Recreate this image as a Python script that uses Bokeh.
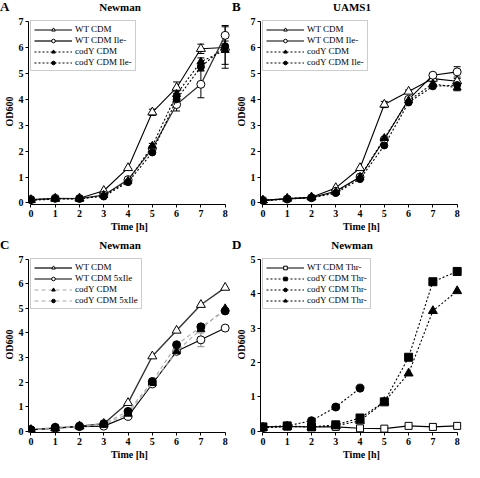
from bokeh.plotting import figure
from bokeh.layouts import row, column
from bokeh.models import (Range1d, Legend, LegendItem, Whisker, ColumnDataSource,
                          TeeHead, FixedTicker, Div)
from bokeh.embed import file_html
from bokeh.resources import INLINE

time = [0, 1, 2, 3, 4, 5, 6, 7, 8]
time_short = [0, 1, 2, 3, 4]

# Panel A - Newman
a_wt_cdm = [0.12, 0.17, 0.18, 0.47, 1.35, 3.5, 4.45, 5.95, 6.0]
a_wt_ile = [0.13, 0.18, 0.17, 0.30, 0.90, 2.1, 3.80, 4.58, 6.47]
a_cody_cdm = [0.10, 0.15, 0.15, 0.30, 0.85, 2.2, 4.20, 5.45, 5.90]
a_cody_ile = [0.12, 0.17, 0.17, 0.25, 0.80, 1.95, 4.00, 5.25, 6.05]
a_wt_cdm_err = [0, 0, 0, 0, 0, 0.12, 0.22, 0.18, 0.80]
a_wt_ile_err = [0, 0, 0, 0, 0, 0, 0.25, 0.52, 0.38]
a_cody_cdm_err = [0, 0, 0, 0, 0, 0.10, 0.12, 0.15, 0.55]
a_cody_ile_err = [0, 0, 0, 0, 0, 0, 0.10, 0.15, 0.20]

# Panel B - UAMS1
b_wt_cdm = [0.10, 0.17, 0.22, 0.58, 1.35, 3.8, 4.30, 4.80, 4.70]
b_wt_ile = [0.10, 0.15, 0.20, 0.45, 1.00, 2.45, 4.00, 4.93, 5.06]
b_cody_cdm = [0.10, 0.17, 0.22, 0.42, 1.00, 2.50, 3.95, 4.60, 4.45]
b_cody_ile = [0.08, 0.15, 0.20, 0.38, 0.92, 2.22, 3.88, 4.50, 4.55]
b_wt_cdm_err = [0, 0, 0, 0, 0, 0.12, 0.06, 0.05, 0.10]
b_wt_ile_err = [0, 0, 0, 0, 0, 0, 0, 0, 0.20]
b_cody_cdm_err = [0, 0, 0, 0, 0, 0, 0, 0.08, 0.12]
b_cody_ile_err = [0, 0, 0, 0, 0, 0, 0, 0, 0]

# Panel C - Newman, 5xIle
c_wt_cdm = [0.05, 0.12, 0.20, 0.30, 1.15, 3.05, 4.10, 5.15, 5.85]
c_wt_5ile = [0.05, 0.12, 0.18, 0.20, 0.60, 1.92, 3.25, 3.72, 4.20]
c_cody_cdm = [0.05, 0.10, 0.18, 0.25, 0.70, 1.95, 3.25, 4.15, 5.00]
c_cody_5ile = [0.05, 0.15, 0.20, 0.30, 0.80, 2.02, 3.52, 4.25, 4.90]
c_wt_5ile_err = [0, 0, 0, 0, 0, 0, 0, 0.28, 0]

# Panel D - Newman, Thr-
d_wt_thr = [0.12, 0.13, 0.12, 0.12, 0.08, 0.07, 0.15, 0.12, 0.15]
d_cody_sq = [0.12, 0.15, 0.12, 0.18, 0.38, 0.85, 2.15, 4.35, 4.65]
d_cody_circ = [0.10, 0.15, 0.30, 0.70, 1.25]
d_cody_tri = [0.10, 0.13, 0.12, 0.15, 0.30, 0.85, 1.68, 3.50, 4.08]

SERIF = "Liberation Serif"


def header(letter, title, height, top):
    html = (
        f'<div style="position:relative;width:232px;height:{height}px;'
        f"font-family:'Liberation Serif',serif;font-weight:bold;color:black;\">"
        f'<span style="position:absolute;left:0px;top:{top}px;font-size:13px;'
        f'line-height:13px;">{letter}</span>'
        f'<span style="position:absolute;left:20px;width:200px;top:{top + 1}px;'
        f'text-align:center;font-size:11px;line-height:12px;">{title}</span></div>'
    )
    return Div(text=html, width=232, height=height, margin=0)


def make_panel(ymax, series, width, height):
    ytop = ymax + 0.12 * ymax / 7
    p = figure(width=width, height=height, x_range=Range1d(-0.1, 8.22),
               y_range=Range1d(-0.06 * ymax / 7, ytop), title=None,
               output_backend="svg", toolbar_location=None,
               min_border_left=2, min_border_right=2, min_border_top=6,
               min_border_bottom=2)
    p.outline_line_color = None
    p.xgrid.visible = False
    p.ygrid.visible = False
    p.background_fill_color = "white"
    p.border_fill_color = "white"

    p.xaxis.ticker = FixedTicker(ticks=list(range(0, 9)))
    p.yaxis.ticker = FixedTicker(ticks=list(range(0, ymax + 1)))
    p.xaxis.bounds = (0, 8)
    p.yaxis.bounds = (0, ymax)
    p.xaxis.axis_label = "Time [h]"
    p.yaxis.axis_label = "OD600"
    for ax in (p.xaxis, p.yaxis):
        ax.axis_label_text_font = SERIF
        ax.axis_label_text_font_style = "bold"
        ax.axis_label_text_font_size = "10px"
        ax.axis_label_text_color = "black"
        ax.major_label_text_font = SERIF
        ax.major_label_text_font_style = "bold"
        ax.major_label_text_font_size = "10px"
        ax.major_label_text_color = "black"
        ax.major_label_standoff = 2
        ax.axis_label_standoff = 1
        ax.major_tick_in = 0
        ax.major_tick_out = 3
        ax.minor_tick_line_color = None
        ax.axis_line_color = "black"
        ax.major_tick_line_color = "black"

    items = []
    for s in series:
        xs = s["x"]
        ln = p.line(xs, s["y"], line_color=s["color"], line_width=s.get("lw", 1.1),
                    line_dash=s.get("dash", "solid"))
        err = s.get("err")
        if err:
            ex = [x for x, e in zip(xs, err) if e > 0]
            ey = [y for y, e in zip(s["y"], err) if e > 0]
            ee = [e for e in err if e > 0]
            ec = s.get("err_color", "black")
            src = ColumnDataSource(dict(x=ex, upper=[y + e for y, e in zip(ey, ee)],
                                        lower=[y - e for y, e in zip(ey, ee)]))
            w = Whisker(base="x", upper="upper", lower="lower", source=src,
                        line_color=ec, line_width=1,
                        upper_head=TeeHead(size=7, line_color=ec),
                        lower_head=TeeHead(size=7, line_color=ec))
            p.add_layout(w)
        mk = p.scatter(xs, s["y"], marker=s["marker"], size=s.get("size", 8),
                       fill_color=s["fill"], line_color="black", line_width=1)
        items.append(LegendItem(label=s["label"], renderers=[ln, mk]))

    legend = Legend(items=items, location="top_left", margin=2, padding=3,
                    spacing=1, glyph_width=38, glyph_height=9, label_height=9,
                    label_standoff=3, label_text_font=SERIF,
                    label_text_font_size="9px", label_text_color="black",
                    border_line_color="#999999",
                    border_line_width=1, background_fill_color="white",
                    background_fill_alpha=1.0)
    p.add_layout(legend)
    return p


dot = "2 2"
pa = make_panel(7, [
    dict(label="WT CDM", x=time, y=a_wt_cdm, marker="triangle", fill="white",
         color="black", err=a_wt_cdm_err, size=9),
    dict(label="WT CDM Ile-", x=time, y=a_wt_ile, marker="circle", fill="white",
         color="#333333", lw=1.3, err=a_wt_ile_err, size=8),
    dict(label="codY CDM", x=time, y=a_cody_cdm, marker="triangle", fill="black",
         color="black", dash=dot, err=a_cody_cdm_err, size=8),
    dict(label="codY CDM Ile-", x=time, y=a_cody_ile, marker="circle", fill="black",
         color="black", dash=dot, err=a_cody_ile_err, size=7),
], 232, 222)

pb = make_panel(7, [
    dict(label="WT CDM", x=time, y=b_wt_cdm, marker="triangle", fill="white",
         color="black", err=b_wt_cdm_err, size=9),
    dict(label="WT CDM Ile-", x=time, y=b_wt_ile, marker="circle", fill="white",
         color="black", err=b_wt_ile_err, size=8),
    dict(label="codY CDM", x=time, y=b_cody_cdm, marker="triangle", fill="black",
         color="black", dash=dot, err=b_cody_cdm_err, size=8),
    dict(label="codY CDM Ile-", x=time, y=b_cody_ile, marker="circle", fill="black",
         color="black", dash=dot, err=b_cody_ile_err, size=7),
], 232, 222)

pc = make_panel(7, [
    dict(label="WT CDM", x=time, y=c_wt_cdm, marker="triangle", fill="white",
         color="#333333", lw=1.4, size=9),
    dict(label="WT CDM 5xIle", x=time, y=c_wt_5ile, marker="circle", fill="white",
         color="black", err=c_wt_5ile_err, err_color="#888888", size=8),
    dict(label="codY CDM", x=time, y=c_cody_cdm, marker="triangle", fill="black",
         color="#aaaaaa", dash="4 3", size=8),
    dict(label="codY CDM 5xIle", x=time, y=c_cody_5ile, marker="circle", fill="black",
         color="#aaaaaa", dash="4 3", size=8),
], 232, 212)

pd_ = make_panel(5, [
    dict(label="WT CDM Thr-", x=time, y=d_wt_thr, marker="square", fill="white",
         color="black", size=7),
    dict(label="codY CDM Thr-", x=time, y=d_cody_sq, marker="square", fill="black",
         color="black", dash=dot, size=8),
    dict(label="codY CDM Thr-", x=time_short, y=d_cody_circ, marker="circle", fill="black",
         color="black", dash=dot, size=8),
    dict(label="codY CDM Thr-", x=time, y=d_cody_tri, marker="triangle", fill="black",
         color="black", dash=dot, size=9),
], 232, 212)

top_row = row(column(header("A", "Newman", 12, 0), pa),
              column(header("B", "UAMS1", 12, 0), pb))
bottom_row = row(column(header("C", "Newman", 16, 4), pc),
                 column(header("D", "Newman", 16, 4), pd_))
layout = column(top_row, bottom_row)

open("out.html", "w").write(file_html(layout, INLINE))
